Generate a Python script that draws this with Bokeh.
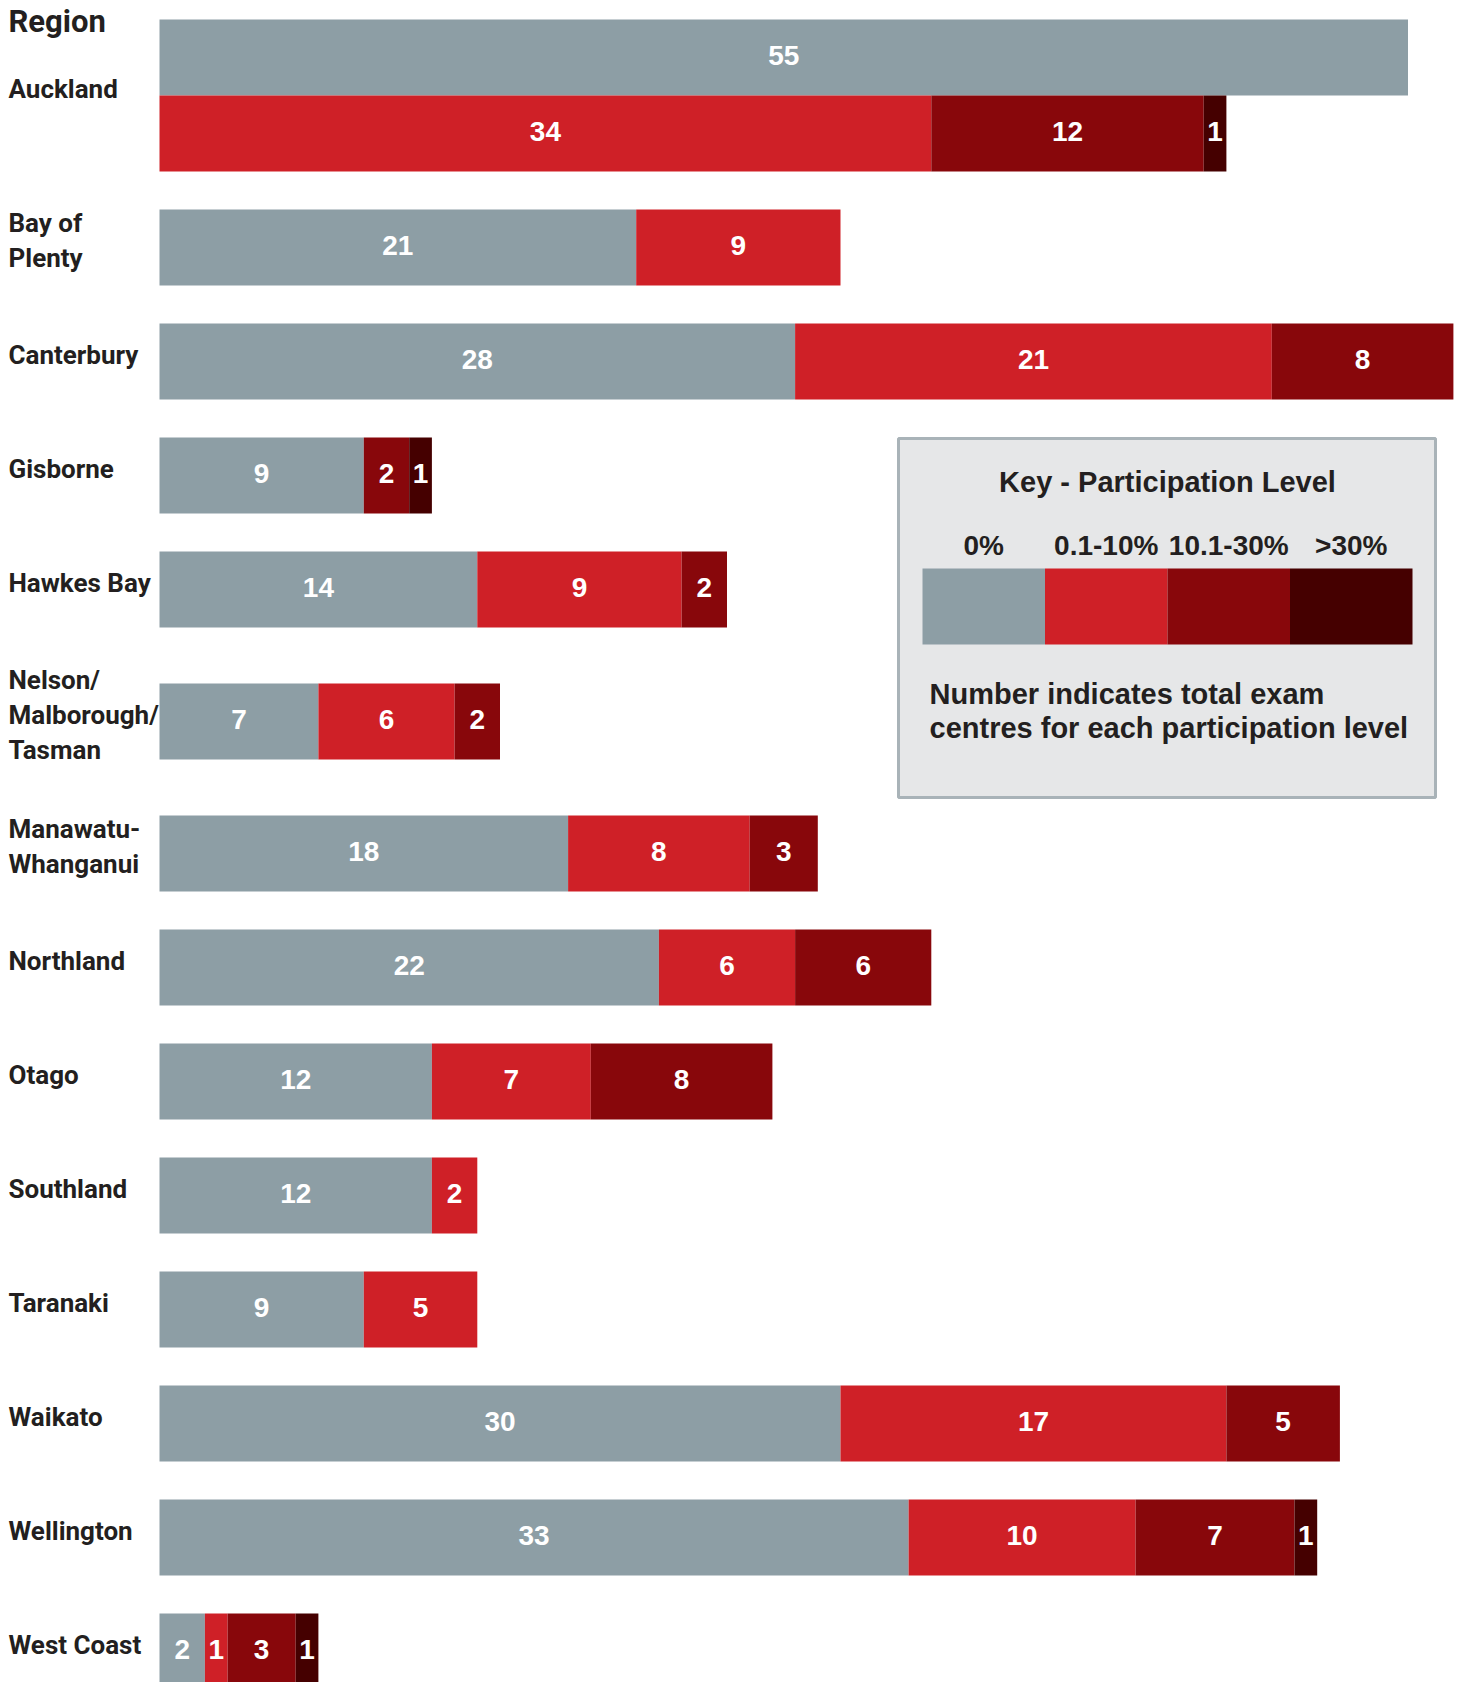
from bokeh.plotting import figure
from bokeh.models import Range1d, ColumnDataSource
from bokeh.core.properties import value
from bokeh.embed import file_html
from bokeh.resources import INLINE

# Exam centres per region, split by participation level
regions = [
    "Auckland", "Bay of\nPlenty", "Canterbury", "Gisborne", "Hawkes Bay",
    "Nelson/\nMalborough/\nTasman", "Manawatu-\nWhanganui", "Northland",
    "Otago", "Southland", "Taranaki", "Waikato", "Wellington", "West Coast",
]
levels = ["0%", "0.1-10%", "10.1-30%", ">30%"]
level_0 = [55, 21, 28, 9, 14, 7, 18, 22, 12, 12, 9, 30, 33, 2]
level_1 = [34, 9, 21, 0, 9, 6, 8, 6, 7, 2, 5, 17, 10, 1]
level_2 = [12, 0, 8, 2, 2, 2, 3, 6, 8, 0, 0, 5, 7, 3]
level_3 = [1, 0, 0, 1, 0, 0, 0, 0, 0, 0, 0, 0, 1, 1]
level_colors = ["#8d9ea5", "#cf2027", "#88070b", "#450000"]

header = "Region"
key_title = "Key - Participation Level"
key_note = ["Number indicates total exam", "centres for each participation level"]

# Regions whose 0% bar sits on its own row above the others
split_regions = {"Auckland"}

# ---- layout (pixel space) ----
W, H = 1461, 1682
PX = 22.7          # pixels per exam centre
X0 = 159           # left edge of the bars
BAR_H = 76
GAP = 38
TALL_EXTRA = 18
LINE_STEP = 35

TEXT_DARK = "#231f20"
LABEL_FONT = value("Roboto")
SANS = value("Liberation Sans")


def dx(px):
    return (px - X0) / PX


p = figure(
    width=W, height=H,
    x_range=Range1d(dx(0), dx(W)), y_range=Range1d(H, 0),
    toolbar_location=None, output_backend="svg", min_border=0,
    x_axis_location=None, y_axis_location=None,
)
p.grid.visible = False
p.outline_line_color = None
p.background_fill_color = "white"
p.border_fill_color = "white"

series = [level_0, level_1, level_2, level_3]

bars = dict(left=[], right=[], y=[], color=[], mid=[], label=[])
names = dict(x=[], y=[], text=[])

top = 19
prev_tall = False
for i, region in enumerate(regions):
    lines = region.split("\n")
    tall = len(lines) >= 3
    if i > 0:
        top += GAP + (TALL_EXTRA if (tall or prev_tall) else 0)
    block_top = top
    key = region.replace("\n", "")
    rows = [[0], [1, 2, 3]] if key in split_regions else [[0, 1, 2, 3]]
    for row in rows:
        start = 0
        for k in row:
            v = series[k][i]
            if v == 0:
                continue
            bars["left"].append(start)
            bars["right"].append(start + v)
            bars["y"].append(top + BAR_H / 2)
            bars["color"].append(level_colors[k])
            bars["mid"].append(start + v / 2)
            bars["label"].append(str(v))
            start += v
        top += BAR_H
    centre = (block_top + top) / 2 - 7
    first = centre - (len(lines) - 1) * LINE_STEP / 2
    for j, line in enumerate(lines):
        names["x"].append(dx(8))
        names["y"].append(first + j * LINE_STEP)
        names["text"].append(line)
    prev_tall = tall

src = ColumnDataSource(bars)
p.hbar(y="y", left="left", right="right", height=BAR_H, fill_color="color",
       line_color=None, source=src)
p.text(x="mid", y="y", text="label", source=src, text_color="white",
       text_font=SANS, text_font_style="bold", text_font_size="28px",
       text_align="center", text_baseline="middle", y_offset=-2)

p.text(x="x", y="y", text="text", source=ColumnDataSource(names),
       text_color=TEXT_DARK, text_font=LABEL_FONT, text_font_style="bold",
       text_font_size="26px", text_align="left", text_baseline="middle")
p.text(x=[dx(8)], y=[21], text=[header], text_color=TEXT_DARK,
       text_font=LABEL_FONT, text_font_style="bold", text_font_size="31px",
       text_align="left", text_baseline="middle")

# ---- key box ----
p.quad(left=[dx(898)], right=[dx(1435)], top=[438], bottom=[797],
       fill_color="#e6e7e8", line_color="#a9b3b8", line_width=3)
p.text(x=[dx(1167)], y=[481], text=[key_title], text_color=TEXT_DARK,
       text_font=SANS, text_font_style="bold", text_font_size="29px",
       text_align="center", text_baseline="middle")

sw_left, sw_right = 922, 1412
sw_w = (sw_right - sw_left) / len(levels)
key_src = ColumnDataSource(dict(
    left=[dx(sw_left + k * sw_w) for k in range(len(levels))],
    right=[dx(sw_left + (k + 1) * sw_w) for k in range(len(levels))],
    mid=[dx(sw_left + (k + 0.5) * sw_w) for k in range(len(levels))],
    color=level_colors,
    text=levels,
))
p.quad(left="left", right="right", top=568, bottom=644, fill_color="color",
       line_color=None, source=key_src)
p.text(x="mid", y=545, text="text", source=key_src, text_color=TEXT_DARK,
       text_font=SANS, text_font_style="bold", text_font_size="28px",
       text_align="center", text_baseline="middle")
p.text(x=[dx(929), dx(929)], y=[693, 727], text=key_note, text_color=TEXT_DARK,
       text_font=SANS, text_font_style="bold", text_font_size="29px",
       text_align="left", text_baseline="middle")

open("out.html", "w").write(file_html(p, INLINE))
